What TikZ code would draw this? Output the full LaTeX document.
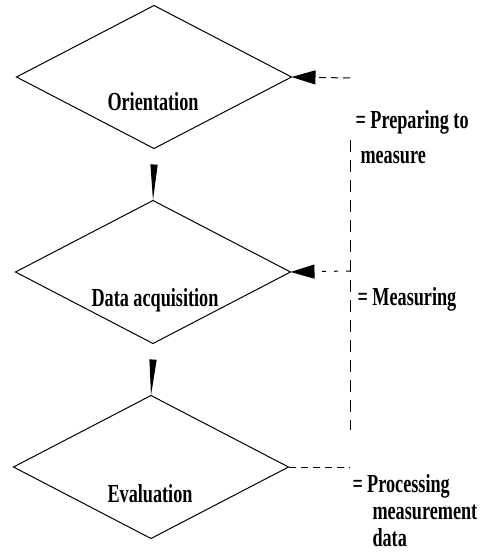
\documentclass[tikz,border=0pt]{standalone}
\usepackage{fontspec}
\setmainfont{Liberation Serif}[FakeStretch=0.7]
\usetikzlibrary{shapes.geometric, arrows.meta}

\begin{document}
\begin{tikzpicture}[x=0.5pt, y=-0.5pt, font=\fontsize{13}{13}\selectfont\bfseries, line width=0.5pt]
        \useasboundingbox (0, 0) rectangle (488, 552);
        \begin{scope}[every node/.style = {draw, diamond, minimum width=137.5pt, minimum height=71.5pt, inner sep=0pt, outer sep=0pt}]
            \node (orient) at (154, 77) {};
            \node (acq) at (153, 272) {};
            \node (eval) at (151, 467) {};
        \end{scope}
        \begin{scope}[every node/.style = {anchor=base, inner sep=0pt}]
            \node (orientlab) at (153, 110) {Orientation};
            \node (acqlab) at (155, 306) {Data acquisition};
            \node (evallab) at (150, 502) {Evaluation};
        \end{scope}
        \begin{scope}[every node/.style = {anchor=base west, inner sep=0pt}]
            \node (prep1) at (355, 128) {= Preparing to};
            \node (prep2) at (360, 163) {measure};
            \node (meas) at (357, 305) {= Measuring};
            \node (proc1) at (352, 492) {=\,Processing};
            \node (proc2) at (372, 519) {measurement};
            \node (proc3) at (372, 546) {data};
        \end{scope}
        % free ends of the dashed lines
        \coordinate (fbtop) at (350, 78);
        \coordinate (fbmid) at (350, 271);
        \coordinate (fbbot) at (350, 467);
        \coordinate (vtop) at (350, 140);
        \coordinate (vbot) at (350, 430);
        \draw[-{Triangle[length=18pt, width=3.5pt]}] ([yshift=-8.5pt]orient.south) -- (acq.north);
        \draw[-{Triangle[length=18pt, width=3.5pt]}] ([yshift=-8.5pt]acq.south) -- (eval.north);
        \draw[dash pattern=on 3.5pt off 2.5pt, -{Triangle[length=12pt, width=7pt]}] (fbtop) -- (orient.east);
        \draw[dash pattern=on 2pt off 4pt, -{Triangle[length=12pt, width=7pt]}] (fbmid) -- (acq.east);
        \draw[dash pattern=on 3.5pt off 2.5pt] (eval.east) -- (fbbot);
        \draw[dash pattern=on 6pt off 4pt] (vtop) -- (vbot);
    \end{tikzpicture}
\end{document}
